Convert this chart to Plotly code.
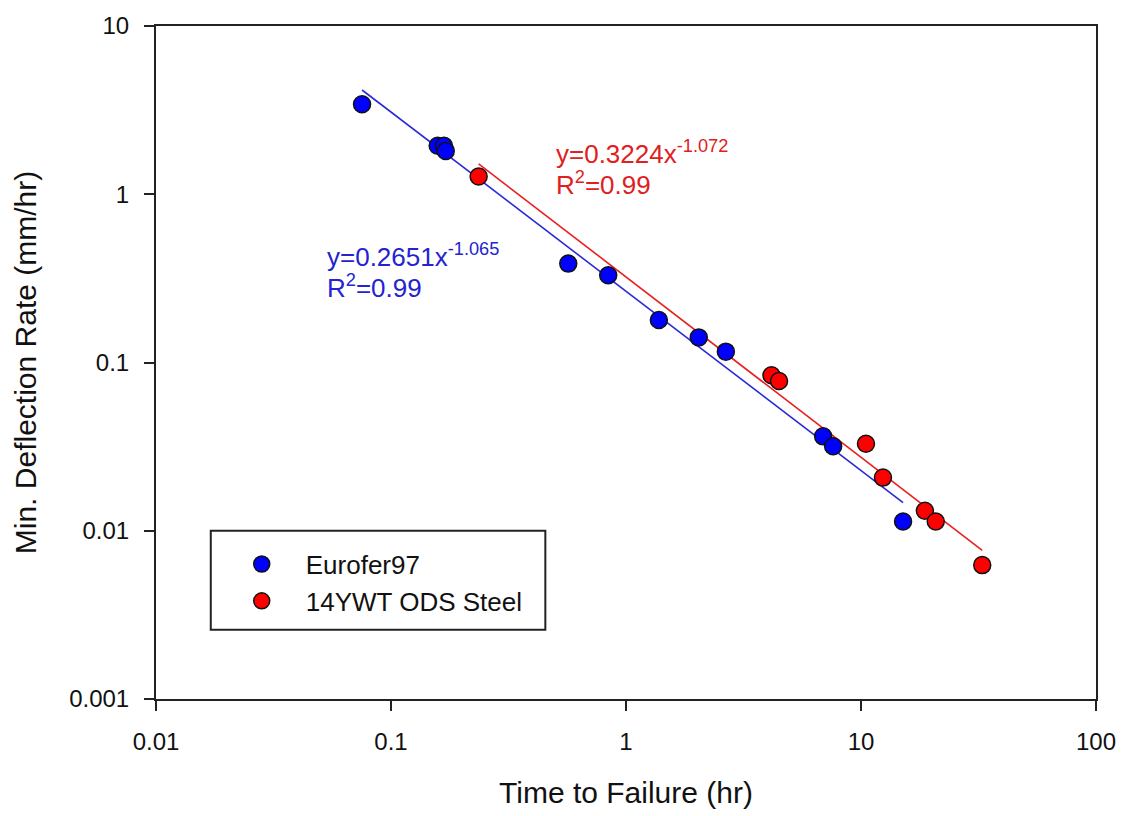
import numpy as np
import plotly.graph_objects as go

# Time to failure (hr) and minimum deflection rate (mm/hr)
euro_time = [0.0753, 0.158, 0.168, 0.171, 0.568, 0.84, 1.38, 2.04, 2.66, 6.90, 7.61, 15.1]
euro_rate = [3.43, 1.94, 1.94, 1.81, 0.387, 0.330, 0.179, 0.141, 0.116, 0.0364, 0.0318, 0.01135]

ods_time = [0.236, 4.16, 4.48, 10.5, 12.4, 18.7, 20.8, 32.8]
ods_rate = [1.276, 0.0839, 0.0776, 0.0329, 0.0207, 0.01316, 0.01135, 0.00625]

# Power-law fits y = a * x^b
euro_fit = (0.2651, -1.065)
ods_fit = (0.3224, -1.072)

x_ticks = [0.01, 0.1, 1, 10, 100]
x_tick_text = ["0.01", "0.1", "1", "10", "100"]
y_ticks = [0.001, 0.01, 0.1, 1, 10]
y_tick_text = ["0.001", "0.01", "0.1", "1", "10"]

FONT = "Liberation Sans, Arial, sans-serif"
BLUE = "#0000ff"
RED = "#ff0000"
BLUE_LINE = "#2a2ad8"
RED_LINE = "#e82020"
BLUE_TEXT = "#2323d0"
RED_TEXT = "#e02020"

W, H = 1128, 816
ML, MR, MT, MB = 156, 28, 22, 114
PW, PH = W - ML - MR, H - MT - MB


def px(xp):
    return (xp - ML) / PW


def py(yp):
    return (H - MB - yp) / PH


def fit_curve(a, b, xs):
    t = np.logspace(np.log10(min(xs)), np.log10(max(xs)), 60)
    return t, a * t ** b


fig = go.Figure()

t, r = fit_curve(*euro_fit, euro_time)
fig.add_trace(go.Scatter(x=t, y=r, mode="lines", line=dict(color=BLUE_LINE, width=1.6),
                         showlegend=False, hoverinfo="skip"))
t, r = fit_curve(*ods_fit, ods_time)
fig.add_trace(go.Scatter(x=t, y=r, mode="lines", line=dict(color=RED_LINE, width=1.6),
                         showlegend=False, hoverinfo="skip"))

marker_line = dict(color="#111111", width=1.5)
fig.add_trace(go.Scatter(x=euro_time, y=euro_rate, mode="markers", name="Eurofer97",
                         marker=dict(size=17, color=BLUE, line=marker_line)))
fig.add_trace(go.Scatter(x=ods_time, y=ods_rate, mode="markers", name="14YWT ODS Steel",
                         marker=dict(size=17, color=RED, line=marker_line)))

axis_common = dict(
    type="log", showgrid=False, zeroline=False,
    showline=True, linecolor="#222222", linewidth=2, mirror=True,
    ticks="outside", ticklen=10, tickwidth=1.5, tickcolor="#222222",
    tickfont=dict(family=FONT, size=24, color="#111111"),
    ticklabelstandoff=10,
)

fig.update_xaxes(range=[-2, 2], tickvals=x_ticks, ticktext=x_tick_text,
                 title=dict(text="Time to Failure (hr)", font=dict(family=FONT, size=30, color="#111111"),
                            standoff=28),
                 **axis_common)
fig.update_yaxes(range=[-3, 1], tickvals=y_ticks, ticktext=y_tick_text,
                 title=dict(text="Min. Deflection Rate (mm/hr)", font=dict(family=FONT, size=30, color="#111111"),
                            standoff=24),
                 **axis_common)

annotations = []


def eq_label(xp, y1p, y2p, a, b, color):
    txt1 = f"y={a}x<sup>{b}</sup>"
    txt2 = "R<sup>2</sup>=0.99"
    for txt, yp in ((txt1, y1p), (txt2, y2p)):
        annotations.append(dict(
            text=txt, xref="paper", yref="paper", x=px(xp), y=py(yp),
            xanchor="left", yanchor="middle", showarrow=False,
            font=dict(family=FONT, size=26, color=color), align="left",
        ))


eq_label(326, 254, 285, *euro_fit, BLUE_TEXT)
eq_label(556, 150, 181, *ods_fit, RED_TEXT)

fig.update_layout(
    width=W, height=H,
    margin=dict(l=ML, r=MR, t=MT, b=MB),
    paper_bgcolor="white", plot_bgcolor="white",
    font=dict(family=FONT, color="#111111"),
    annotations=annotations,
    showlegend=True,
    legend=dict(x=px(218), y=py(542), xanchor="left", yanchor="top",
                bgcolor="rgba(0,0,0,0)", borderwidth=0,
                font=dict(family=FONT, size=26, color="#111111"),
                itemwidth=78, tracegroupgap=0),
    shapes=[dict(type="rect", xref="paper", yref="paper",
                 x0=px(211), x1=px(547), y0=py(632), y1=py(532),
                 line=dict(color="#222222", width=2), fillcolor="rgba(0,0,0,0)")],
)

fig.write_html("out.html")
